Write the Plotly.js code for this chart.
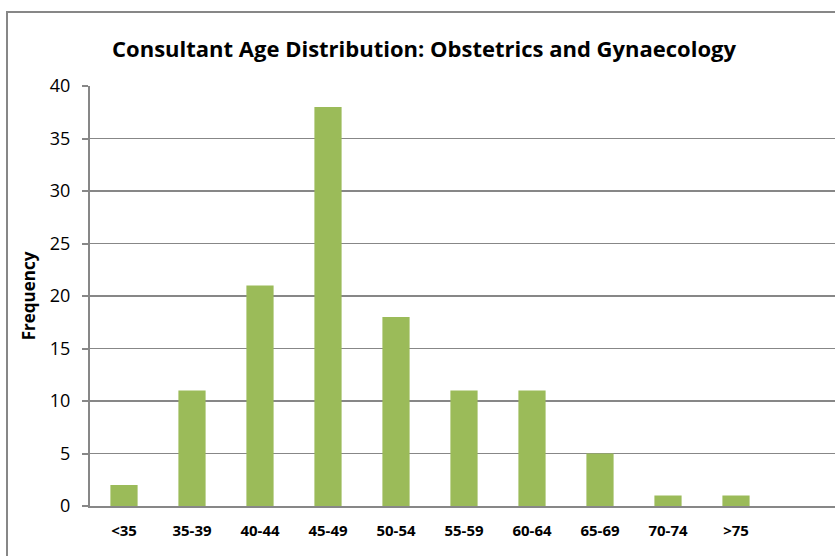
<!DOCTYPE html>
<html>
<head>
<meta charset="utf-8">
<script src="https://cdn.plot.ly/plotly-3.0.1.min.js"></script>
<style>
  html, body { margin: 0; padding: 0; overflow: hidden; background: #fff; }
  #chart { position: absolute; left: 0; top: 0; }
  #frame { position: absolute; left: 6px; top: 11px; width: 900px; height: 700px;
           border: 2px solid #878787; pointer-events: none; }
</style>
</head>
<body>
<div id="chart"></div>
<div id="frame"></div>
<script>
var ageGroups = ['<35', '35-39', '40-44', '45-49', '50-54', '55-59', '60-64', '65-69', '70-74', '>75'];
var frequency = [2, 11, 21, 38, 18, 11, 11, 5, 1, 1];

var trace = {
    x: ageGroups,
    y: frequency,
    type: 'bar',
    marker: { color: '#9bbb59' },
    hoverinfo: 'x+y'
};

var layout = {
    width: 900,
    height: 556,
    margin: { l: 90, r: 62, t: 86, b: 50 },
    paper_bgcolor: '#fff',
    plot_bgcolor: '#fff',
    bargap: 0.6,
    showlegend: false,
    title: {
        text: '<b>Consultant Age Distribution: Obstetrics and Gynaecology</b>',
        font: { family: 'Open Sans, sans-serif', size: 22, color: '#000' },
        x: 424 / 900,
        xanchor: 'center',
        y: 1 - 49 / 556,
        yanchor: 'middle'
    },
    xaxis: {
        type: 'category',
        range: [-0.5, 10.5],
        showgrid: false,
        showline: true,
        linecolor: '#878787',
        linewidth: 2,
        ticks: '',
        ticklabelstandoff: 10,
        tickfont: { family: 'Open Sans, sans-serif', size: 15, color: '#000', weight: 'bold' },
        fixedrange: true
    },
    yaxis: {
        range: [0, 40],
        dtick: 5,
        showgrid: true,
        gridcolor: '#878787',
        gridwidth: 1.5,
        showline: true,
        linecolor: '#878787',
        linewidth: 2,
        zeroline: false,
        ticks: 'outside',
        ticklen: 6,
        tickwidth: 2,
        tickcolor: '#878787',
        ticklabelstandoff: 8,
        tickfont: { family: 'Open Sans, sans-serif', size: 18, color: '#000' },
        title: {
            text: '<b>Frequency</b>',
            font: { family: 'Open Sans, sans-serif', size: 17, color: '#000' },
            standoff: 10
        },
        fixedrange: true
    }
};

Plotly.newPlot('chart', [trace], layout, { displayModeBar: false, staticPlot: true });
</script>
</body>
</html>
